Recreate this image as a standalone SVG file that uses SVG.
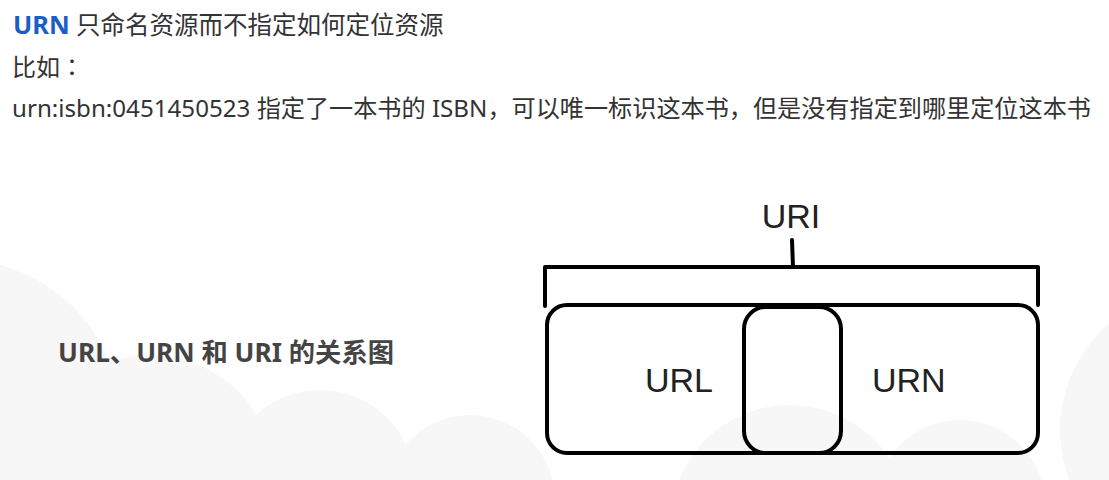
<svg xmlns="http://www.w3.org/2000/svg" width="1109" height="480" viewBox="0 0 1109 480">
<style>
.body{font-family:"Noto Sans","Noto Sans CJK SC",sans-serif;font-size:24px;fill:#333}
.lbl{font-family:"Liberation Sans",Arial,sans-serif;font-size:34px;fill:#222}
.ln{fill:none;stroke:#000;stroke-width:4;stroke-linecap:round;stroke-linejoin:round}
.cloud{fill:#f7f7f7}
</style>
<rect width="1109" height="480" fill="#fff"/>
<g id="clouds">
<circle class="cloud" cx="-40" cy="420" r="160"/>
<circle class="cloud" cx="150" cy="480" r="125"/>
<circle class="cloud" cx="320" cy="485" r="95"/>
<circle class="cloud" cx="470" cy="500" r="85"/>
<circle class="cloud" cx="790" cy="525" r="120"/>
<circle class="cloud" cx="960" cy="505" r="85"/>
<circle class="cloud" cx="1200" cy="430" r="140"/>
</g>
<g id="header">
<text class="body" x="13" y="34" style="font-size:24.5px"><tspan font-weight="bold" fill="#1b5ec7" style="font-size:25.5px">URN</tspan> 只命名资源而不指定如何定位资源</text>
<text class="body" x="12" y="76">比如<tspan style="font-family:'Noto Sans CJK JP',sans-serif">：</tspan></text>
<text class="body" x="12" y="117" style="font-size:24.15px">urn:isbn:0451450523 指定了一本书的 ISBN，可以唯一标识这本书，但是没有指定到哪里定位这本书</text>
</g>
<g id="caption">
<text x="58" y="362" style="font-family:'Noto Sans','Noto Sans CJK SC',sans-serif;font-size:26.3px;font-weight:bold;fill:#444">URL、URN 和 URI 的关系图</text>
</g>
<g id="connectors">
<path class="ln" d="M545,306 L545,267 L1038,267 L1038,305"/>
<path class="ln" d="M792,240 L793,267"/>
</g>
<g id="uri">
<text class="lbl" x="791" y="228" text-anchor="middle">URI</text>
</g>
<g id="outer">
<rect class="ln" x="547" y="305" width="491" height="148" rx="20"/>
</g>
<g id="overlap">
<rect class="ln" x="744" y="307" width="97" height="146" rx="22"/>
</g>
<g id="url">
<text class="lbl" x="645" y="392">URL</text>
</g>
<g id="urn">
<text class="lbl" x="872" y="392">URN</text>
</g>
</svg>
